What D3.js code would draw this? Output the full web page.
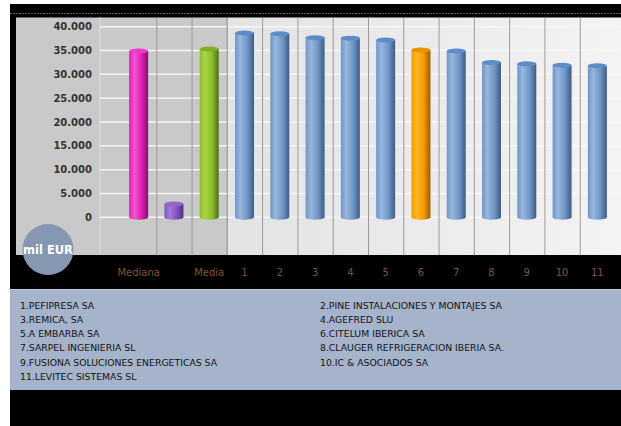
<!DOCTYPE html>
<html>
<head>
<meta charset="utf-8">
<script src="https://cdn.jsdelivr.net/npm/d3@7"></script>
<style>
  body { margin: 0; background: #fff; }
  text { font-family: "DejaVu Sans", Verdana, sans-serif; }
</style>
</head>
<body>
<script>
// chart data
let categories = ["Mediana", "", "Media", "1", "2", "3", "4", "5", "6", "7", "8", "9", "10", "11"];
let values = [34900, 2800, 35300, 38700, 38500, 37700, 37600, 37200, 35100, 34900, 32500, 32200, 31900, 31800];
let barColors = ["magenta", "purple", "green", "blue", "blue", "blue", "blue", "blue", "orange", "blue", "blue", "blue", "blue", "blue"];
let yTicks = [0, 5000, 10000, 15000, 20000, 25000, 30000, 35000, 40000];
let companies = [
    "1.PEFIPRESA SA",
    "2.PINE INSTALACIONES Y MONTAJES SA",
    "3.REMICA, SA",
    "4.AGEFRED SLU",
    "5.A EMBARBA SA",
    "6.CITELUM IBERICA SA",
    "7.SARPEL INGENIERIA SL",
    "8.CLAUGER REFRIGERACION IBERIA SA.",
    "9.FUSIONA SOLUCIONES ENERGETICAS SA",
    "10.IC & ASOCIADOS SA",
    "11.LEVITEC SISTEMAS SL"
];
let unitLabel = "mil EUR";

let width = 621;
let height = 426;

let palette = {
    magenta: {light: "#f455d4", base: "#e01fb2", dark: "#8a0e6c", cap: "#ea3cc4"},
    purple:  {light: "#a07ad6", base: "#8352bd", dark: "#4e2b80", cap: "#9066c8"},
    green:   {light: "#acd447", base: "#8bbb2b", dark: "#4d6e17", cap: "#7fae28"},
    blue:    {light: "#95b6de", base: "#7096c6", dark: "#3e5b86", cap: "#5d8ccb"},
    orange:  {light: "#ffb428", base: "#f29c00", dark: "#985a00", cap: "#e89200"}
};

let svg = d3.select("body").append("svg")
    .attr("width", width)
    .attr("height", height);

let defs = svg.append("defs");

Object.keys(palette).forEach(k => {
    let c = palette[k];
    let g = defs.append("linearGradient")
        .attr("id", "cyl-" + k)
        .attr("x1", 0).attr("x2", 1).attr("y1", 0).attr("y2", 0);
    g.append("stop").attr("offset", 0).attr("stop-color", c.base);
    g.append("stop").attr("offset", 0.28).attr("stop-color", c.light);
    g.append("stop").attr("offset", 0.65).attr("stop-color", c.base);
    g.append("stop").attr("offset", 1).attr("stop-color", c.dark);
});

let bgGrad = defs.append("linearGradient")
    .attr("id", "bg-light")
    .attr("x1", 0).attr("x2", 1).attr("y1", 0).attr("y2", 0);
bgGrad.append("stop").attr("offset", 0).attr("stop-color", "#e3e3e3");
bgGrad.append("stop").attr("offset", 1).attr("stop-color", "#f3f3f3");

// outer black frame
svg.append("rect")
    .attr("x", 10).attr("y", 4)
    .attr("width", width - 10).attr("height", height - 4)
    .attr("fill", "#000");

svg.append("line")
    .attr("x1", 10).attr("x2", width)
    .attr("y1", 13.5).attr("y2", 13.5)
    .attr("stroke", "#5c5c66")
    .attr("stroke-dasharray", "2,1");

let plotTop = 17.5;
let plotBottom = 255;
let gridLeft = 100;

let x = d3.scaleBand()
    .domain(categories)
    .range([121, 615])
    .padding(0);

let y = d3.scaleLinear()
    .domain([0, 40000])
    .range([217.3, 26.7]);

let grayEnd = x(categories[3]);

svg.append("rect")
    .attr("x", 16).attr("y", plotTop)
    .attr("width", grayEnd - 16).attr("height", plotBottom - plotTop)
    .attr("fill", "#c9c9c9");

svg.append("rect")
    .attr("x", grayEnd).attr("y", plotTop)
    .attr("width", width - grayEnd).attr("height", plotBottom - plotTop)
    .attr("fill", "url(#bg-light)");

svg.append("line")
    .attr("x1", gridLeft).attr("x2", gridLeft)
    .attr("y1", plotTop).attr("y2", plotBottom)
    .attr("stroke", "#dcdcdc");

// horizontal gridlines
svg.selectAll(".grid")
    .data(yTicks)
    .join("line")
    .attr("class", "grid")
    .attr("x1", gridLeft)
    .attr("x2", width)
    .attr("y1", d => y(d))
    .attr("y2", d => y(d))
    .attr("stroke", "#f6f6f6")
    .attr("stroke-width", 1.5);

// band separators
svg.selectAll(".sep")
    .data(categories.slice(1))
    .join("line")
    .attr("class", "sep")
    .attr("x1", d => x(d) + 0.5)
    .attr("x2", d => x(d) + 0.5)
    .attr("y1", plotTop)
    .attr("y2", plotBottom)
    .attr("stroke", "#9a9a9a");

let fmt = d3.formatLocale({decimal: ",", thousands: ".", grouping: [3], currency: ["", ""]}).format(",");

svg.selectAll(".ticklabel")
    .data(yTicks)
    .join("text")
    .attr("class", "ticklabel")
    .attr("x", 92)
    .attr("y", d => y(d))
    .attr("dy", "0.36em")
    .attr("text-anchor", "end")
    .attr("font-size", 10)
    .attr("font-weight", "bold")
    .attr("fill", "#333")
    .text(d => fmt(d));

// cylinders
let barW = 19;
let ry = 2.5;
let bars = svg.selectAll(".bar")
    .data(categories.map((c, i) => ({cat: c, value: values[i], color: barColors[i]})))
    .join("g")
    .attr("class", "bar")
    .attr("transform", d => `translate(${x(d.cat) + x.bandwidth() / 2},0)`);

bars.append("ellipse")
    .attr("cx", 0)
    .attr("cy", y(0))
    .attr("rx", barW / 2)
    .attr("ry", ry)
    .attr("fill", d => `url(#cyl-${d.color})`);

bars.append("rect")
    .attr("x", -barW / 2)
    .attr("width", barW)
    .attr("y", d => y(d.value))
    .attr("height", d => y(0) - y(d.value))
    .attr("fill", d => `url(#cyl-${d.color})`);

bars.append("ellipse")
    .attr("cx", 0)
    .attr("cy", d => y(d.value))
    .attr("rx", barW / 2)
    .attr("ry", ry)
    .attr("fill", d => palette[d.color].cap);

// x labels in the black band
svg.selectAll(".xlabel")
    .data(categories)
    .join("text")
    .attr("class", "xlabel")
    .attr("x", d => x(d) + x.bandwidth() / 2)
    .attr("y", 275.5)
    .attr("text-anchor", "middle")
    .attr("font-size", 10)
    .attr("fill", "#7e5630")
    .text(d => d);

// unit badge
svg.append("circle")
    .attr("cx", 48)
    .attr("cy", 249.5)
    .attr("r", 25.5)
    .attr("fill", "#8597b1");

svg.append("text")
    .attr("x", 48)
    .attr("y", 249.5)
    .attr("dy", "0.36em")
    .attr("text-anchor", "middle")
    .attr("font-size", 11.5)
    .attr("font-weight", "bold")
    .attr("fill", "#fff")
    .text(unitLabel);

// legend panel
svg.append("rect")
    .attr("x", 10).attr("y", 289.5)
    .attr("width", width - 10).attr("height", 100.5)
    .attr("fill", "#a5b3cb");

svg.append("line")
    .attr("x1", 10).attr("x2", width)
    .attr("y1", 289.5).attr("y2", 289.5)
    .attr("stroke", "#c3cbdb");

svg.selectAll(".legend-item")
    .data(companies)
    .join("text")
    .attr("class", "legend-item")
    .attr("x", (d, i) => i % 2 === 0 ? 20 : 320)
    .attr("y", (d, i) => 308.5 + Math.floor(i / 2) * 14.3)
    .attr("font-size", 9.3)
    .attr("fill", "#141414")
    .text(d => d);
</script>
</body>
</html>
